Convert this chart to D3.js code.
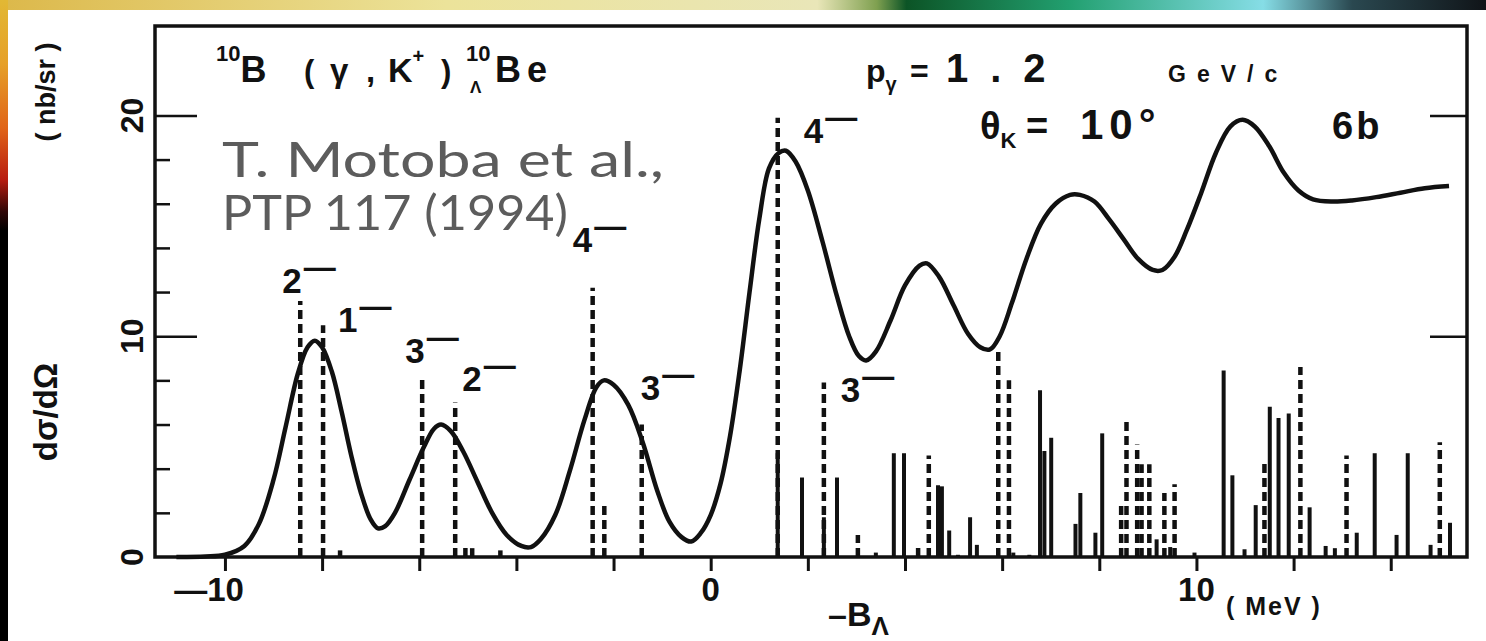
<!DOCTYPE html>
<html>
<head>
<meta charset="utf-8">
<script src="https://cdn.jsdelivr.net/npm/d3@7"></script>
<style>
body { margin: 0; background: #fff; }
svg { display: block; }
text { font-family: "Liberation Sans", Arial, sans-serif; font-weight: bold; fill: #111; }
</style>
</head>
<body>
<div id="chart"></div>
<script>
var width = 1486, height = 641;
var margin = { top: 26, right: 19, bottom: 84, left: 155 };

// folded spectrum (MeV, nb/sr)
var curveX = [-11.0, -10.4, -10.0, -9.6, -9.3, -9.0, -8.75, -8.5, -8.3, -8.15, -8.0, -7.8, -7.6, -7.4, -7.2, -7.0,
    -6.85, -6.7, -6.5, -6.2, -5.9, -5.7, -5.55, -5.35, -5.1, -4.8, -4.5, -4.2, -3.9, -3.7, -3.5, -3.2,
    -2.9, -2.6, -2.35, -2.2, -2.0, -1.7, -1.4, -1.1, -0.85, -0.6, -0.4, -0.2, 0.0, 0.2, 0.4, 0.6,
    0.8, 1.0, 1.2, 1.4, 1.55, 1.75, 2.0, 2.3, 2.6, 2.85, 3.05, 3.2, 3.4, 3.7, 4.0, 4.3,
    4.45, 4.7, 5.0, 5.3, 5.55, 5.75, 5.95, 6.2, 6.5, 6.8, 7.1, 7.4, 7.6, 7.9, 8.2, 8.5,
    8.8, 9.1, 9.3, 9.55, 9.8, 10.1, 10.4, 10.7, 10.95, 11.2, 11.5, 11.8, 12.1, 12.4, 12.8, 13.2,
    13.7, 14.2, 14.7, 15.2];
var curveY = [0.0, 0.02, 0.1, 0.5, 1.5, 3.5, 5.9, 8.3, 9.5, 9.8, 9.5, 8.4, 6.6, 4.6, 2.9, 1.7,
    1.3, 1.4, 2.0, 3.5, 5.0, 5.8, 6.0, 5.7, 4.8, 3.4, 2.0, 1.0, 0.5, 0.45, 0.8, 1.9,
    3.9, 6.2, 7.7, 8.0, 7.8, 6.9, 5.2, 3.0, 1.6, 0.9, 0.7, 1.1, 1.9, 3.3, 5.5, 8.5,
    12.0, 15.3, 17.6, 18.3, 18.4, 17.9, 16.6, 14.3, 11.8, 10.0, 9.1, 8.9, 9.3, 10.7, 12.3, 13.2,
    13.3, 12.7, 11.4, 10.1, 9.5, 9.4, 10.0, 11.5, 13.5, 15.1, 16.0, 16.4, 16.4, 16.1, 15.3, 14.4,
    13.5, 13.0, 13.0, 13.6, 14.8, 16.5, 18.3, 19.5, 19.8, 19.5, 18.6, 17.4, 16.6, 16.2, 16.1, 16.15,
    16.3, 16.5, 16.7, 16.8];

// labelled states (dashed)
var stateX = [-8.45, -7.98, -5.94, -5.26, -2.43, -1.42, 1.38, 2.33];
var stateY = [11.6, 10.5, 8.1, 7.0, 12.2, 6.0, 19.9, 7.9];
var stateSpin = ["2", "1", "3", "2", "4", "3", "4", "3"];

// other dashed sticks
var dashX = [-7.63, -5.05, -4.91, -4.33, -2.19, 3.03, 4.27, 4.49, 5.92, 6.14, 8.45, 8.56, 8.78, 8.87, 9.03,
    9.34, 9.55, 11.4, 12.14, 13.09, 15.01];
var dashY = [0.3, 0.6, 0.4, 0.3, 2.4, 1.0, 0.6, 4.6, 9.4, 8.0, 2.4, 6.3, 5.1, 4.2, 4.2,
    2.9, 3.3, 4.25, 8.6, 4.6, 5.2];

// solid sticks
var solidX = [1.38, 1.88, 2.33, 2.6, 3.4, 3.77, 3.98, 4.68, 4.76, 4.91, 5.09, 5.34, 5.48, 6.23, 6.56,
    6.78, 6.87, 7.01, 7.51, 7.61, 7.92, 8.06, 9.18, 9.46, 9.96, 10.56, 10.74, 10.99, 11.22, 11.51,
    11.69, 11.9, 12.33, 12.66, 12.85, 13.3, 13.67, 14.12, 14.35, 14.82, 15.22];
var solidY = [4.7, 3.6, 1.8, 3.6, 0.2, 4.7, 4.7, 3.25, 3.2, 1.2, 0.1, 1.8, 0.55, 0.2, 0.1,
    7.55, 4.8, 5.4, 1.5, 2.9, 1.1, 5.6, 0.8, 0.45, 0.2, 8.45, 3.7, 0.35, 2.35, 6.8,
    6.3, 6.5, 2.25, 0.5, 0.4, 1.1, 4.7, 1.0, 4.7, 0.55, 1.55];

var xTicks = [-10, -8, -6, -4, -2, 0, 2, 4, 6, 8, 10, 12, 14];
var xTickLabels = [-10, 0, 10];
var yTicks = [0, 10, 20];
var yMinorTicks = [2, 4, 6, 8, 12, 14, 16, 18];

var svg = d3.select("#chart").append("svg")
    .attr("width", width)
    .attr("height", height);

// slide border (template background)
var defs = svg.append("defs");
var gTop = defs.append("linearGradient").attr("id", "gtop");
[["0%", "#dcb84a"], ["30%", "#ece39a"], ["55%", "#e9e6b8"], ["59%", "#7fa050"], ["61%", "#0c5426"],
 ["72%", "#22a070"], ["85%", "#86dde6"], ["91%", "#2a4850"], ["100%", "#101418"]].forEach(function (s) {
    gTop.append("stop").attr("offset", s[0]).attr("stop-color", s[1]);
});
var gLeft = defs.append("linearGradient").attr("id", "gleft")
    .attr("x1", 0).attr("y1", 0).attr("x2", 0).attr("y2", 1);
[["0%", "#e2b834"], ["10%", "#e6a028"], ["20%", "#e06418"], ["28%", "#b81c10"], ["33%", "#300606"],
 ["36%", "#000"], ["100%", "#000"]].forEach(function (s) {
    gLeft.append("stop").attr("offset", s[0]).attr("stop-color", s[1]);
});
svg.append("rect").attr("width", width).attr("height", 10).attr("fill", "url(#gtop)");
svg.append("rect").attr("width", 8).attr("height", height).attr("fill", "url(#gleft)");

var x = d3.scaleLinear()
    .domain([-11.44, 15.57])
    .range([margin.left, width - margin.right]);

var y = d3.scaleLinear()
    .domain([0, 24.05])
    .range([height - margin.bottom, margin.top]);

// sticks
svg.append("g")
    .attr("stroke", "#111")
    .attr("stroke-width", 4)
    .selectAll("line")
    .data(d3.range(solidX.length))
    .enter()
    .append("line")
    .attr("x1", i => x(solidX[i]))
    .attr("x2", i => x(solidX[i]))
    .attr("y1", y(0))
    .attr("y2", i => y(solidY[i]));

svg.append("g")
    .attr("stroke", "#111")
    .attr("stroke-width", 4.5)
    .attr("stroke-dasharray", "9,5")
    .selectAll("line")
    .data(d3.range(dashX.length))
    .enter()
    .append("line")
    .attr("x1", i => x(dashX[i]))
    .attr("x2", i => x(dashX[i]))
    .attr("y1", y(0))
    .attr("y2", i => y(dashY[i]));

svg.append("g")
    .attr("stroke", "#111")
    .attr("stroke-width", 4.5)
    .attr("stroke-dasharray", "9,5")
    .selectAll("line")
    .data(d3.range(stateX.length))
    .enter()
    .append("line")
    .attr("x1", i => x(stateX[i]))
    .attr("x2", i => x(stateX[i]))
    .attr("y1", y(0))
    .attr("y2", i => y(stateY[i]));

// spin-parity labels: offset of the digit from the top of its line
var labelOff = [[-18, -8], [15, 7], [-17, -15], [7, -11], [-20, -36], [-1, -25], [26, 25], [17, 19]];
var labels = svg.append("g");
stateX.forEach(function (v, i) {
    var t = labels.append("text")
        .attr("x", x(v) + labelOff[i][0])
        .attr("y", y(stateY[i]) + labelOff[i][1])
        .style("font-size", "35px");
    t.append("tspan").text(stateSpin[i]);
    t.append("tspan").attr("dy", -15).attr("dx", 2).style("font-size", "32px").text("\u2014");
});

// curve
var line = d3.line()
    .x((d, i) => x(curveX[i]))
    .y((d, i) => y(curveY[i]))
    .curve(d3.curveCatmullRom);

svg.append("path")
    .datum(curveX)
    .attr("fill", "none")
    .attr("stroke", "#111")
    .attr("stroke-width", 4.5)
    .attr("stroke-linejoin", "round")
    .attr("d", line);

// axes
svg.append("g")
    .attr("transform", `translate(0,${y(0)})`)
    .call(d3.axisBottom(x).tickValues(xTicks).tickSize(14).tickFormat(""))
    .call(g => g.select(".domain").remove())
    .selectAll("line").attr("stroke", "#111").attr("stroke-width", 3);

svg.append("g")
    .attr("transform", `translate(${margin.left},0)`)
    .call(d3.axisRight(y).tickValues(yMinorTicks).tickSize(15).tickFormat(""))
    .call(g => g.select(".domain").remove())
    .selectAll("line").attr("stroke", "#111").attr("stroke-width", 2.5);

svg.append("g")
    .attr("transform", `translate(${margin.left},0)`)
    .call(d3.axisRight(y).tickValues([10, 20]).tickSize(42).tickFormat(""))
    .call(g => g.select(".domain").remove())
    .selectAll("line").attr("stroke", "#111").attr("stroke-width", 2.5);

svg.append("g")
    .attr("transform", `translate(${width - margin.right},0)`)
    .call(d3.axisLeft(y).tickValues([10, 20]).tickSize(37).tickFormat(""))
    .call(g => g.select(".domain").remove())
    .selectAll("line").attr("stroke", "#111").attr("stroke-width", 2.5);

// frame
svg.append("rect")
    .attr("x", margin.left)
    .attr("y", margin.top)
    .attr("width", width - margin.left - margin.right)
    .attr("height", height - margin.top - margin.bottom)
    .attr("fill", "none")
    .attr("stroke", "#111")
    .attr("stroke-width", 3.5);

// tick labels
xTickLabels.forEach(function (v) {
    svg.append("text")
        .attr("x", v < 0 ? x(v) + 19 : x(v))
        .attr("y", 601)
        .attr("text-anchor", v < 0 ? "end" : "middle")
        .style("font-size", "33px")
        .text(v < 0 ? "\u2014" + Math.abs(v) : v);
});

yTicks.forEach(function (v) {
    svg.append("text")
        .attr("transform", `translate(143,${y(v)}) rotate(-90)`)
        .attr("text-anchor", "middle")
        .style("font-size", "32px")
        .text(v);
});

// axis titles
svg.append("text")
    .attr("transform", "translate(57,412) rotate(-90)")
    .attr("text-anchor", "middle")
    .style("font-size", "33px")
    .text("d\u03c3/d\u03a9");

svg.append("text")
    .attr("transform", "translate(55,92) rotate(-90)")
    .attr("text-anchor", "middle")
    .style("font-size", "27px")
    .text("( nb/sr )");

var bt = svg.append("text").attr("x", 828).attr("y", 626).style("font-size", "34px");
bt.append("tspan").text("\u2013B");
bt.append("tspan").attr("dy", 9).style("font-size", "26px").text("\u039b");

svg.append("text")
    .attr("x", 1226).attr("y", 615)
    .style("font-size", "25px")
    .style("letter-spacing", "2px")
    .text("( MeV )");

// reaction header
var h1 = svg.append("text").attr("x", 216).attr("y", 82).style("font-size", "36px");
h1.append("tspan").attr("dy", -21).style("font-size", "22px").text("10");
h1.append("tspan").attr("dy", 21).text("B");
h1.append("tspan").attr("x", 304).style("font-size", "31px").text("(");
h1.append("tspan").attr("x", 330).style("font-size", "33px").text("\u03b3");
h1.append("tspan").attr("x", 366).style("font-size", "33px").text(",");
h1.append("tspan").attr("x", 388).style("font-size", "34px").text("K");
h1.append("tspan").attr("dy", -19).style("font-size", "20px").text("+");
h1.append("tspan").attr("x", 441).attr("dy", 19).style("font-size", "31px").text(")");
h1.append("tspan").attr("x", 466).attr("dy", -21).style("font-size", "22px").text("10");
h1.append("tspan").attr("x", 470).attr("dy", 32).style("font-size", "17px").text("\u039b");
h1.append("tspan").attr("x", 495).attr("dy", -11).style("letter-spacing", "6px").text("Be");

var h2 = svg.append("text").attr("x", 866).attr("y", 82).style("font-size", "32px");
h2.append("tspan").text("p");
h2.append("tspan").attr("dy", 9).style("font-size", "20px").text("\u03b3");
h2.append("tspan").attr("x", 910).attr("dy", -9).text("=");
h2.append("tspan").attr("x", 946).style("font-size", "40px").style("letter-spacing", "22px").text("1.2");
h2.append("tspan").attr("x", 1168).style("font-size", "23px").style("letter-spacing", "11px").text("GeV/c");

var h3 = svg.append("text").attr("x", 980).attr("y", 139).style("font-size", "38px");
h3.append("tspan").text("\u03b8");
h3.append("tspan").attr("dy", 9).style("font-size", "22px").text("K");
h3.append("tspan").attr("x", 1026).attr("dy", -9).text("=");
h3.append("tspan").attr("x", 1080).style("font-size", "42px").style("letter-spacing", "6px").text("10\u00b0");

svg.append("text").attr("x", 1332).attr("y", 139)
    .style("font-size", "38px").style("letter-spacing", "3px").text("6b");

// citation overlay
var cite = svg.append("text")
    .attr("x", 222).attr("y", 177)
    .style("font-family", "Lato, 'Open Sans', sans-serif")
    .style("font-weight", "normal")
    .style("font-size", "48px")
    .style("fill", "#5c5c5c");
cite.append("tspan")
    .attr("textLength", 442)
    .attr("lengthAdjust", "spacingAndGlyphs")
    .text("T. Motoba et al.,");
cite.append("tspan")
    .attr("x", 222).attr("dy", 53)
    .attr("textLength", 346)
    .attr("lengthAdjust", "spacingAndGlyphs")
    .text("PTP 117 (1994)");
</script>
</body>
</html>
